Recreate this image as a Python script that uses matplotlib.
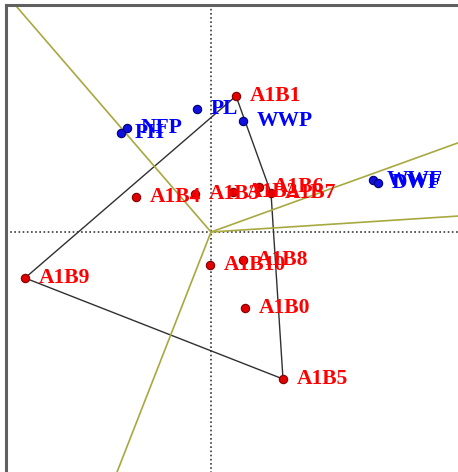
import numpy as np
import matplotlib
matplotlib.use("Agg")
import matplotlib.pyplot as plt

# Genotype scores (PC1, PC2)
genotypes = ["A1B0", "A1B1", "A1B2", "A1B3", "A1B4", "A1B5",
             "A1B6", "A1B7", "A1B8", "A1B9", "A1B10"]
gen_pc1 = [0.68, 0.50, 0.44, -0.32, -1.50, 1.44, 0.96, 1.20, 0.64, -3.72, -0.02]
gen_pc2 = [-1.52, 2.72, 0.80, 0.76, 0.70, -2.94, 0.90, 0.78, -0.56, -0.92, -0.66]

# Environment scores (PC1, PC2)
environments = ["PL", "WWP", "PH", "NFP", "WWF", "DWF"]
env_pc1 = [-0.28, 0.64, -1.80, -1.68, 3.24, 3.34]
env_pc2 = [2.46, 2.22, 1.98, 2.08, 1.04, 0.98]

# Convex hull vertices (which-won-where polygon)
hull = ["A1B1", "A1B7", "A1B5", "A1B9"]

W, H, DPI = 458, 472, 100
fig = plt.figure(figsize=(W / DPI, H / DPI), dpi=DPI)

left = 6 / W
top = 1 - 5 / H
width = 1.02 - left
bottom = -0.02
height = top - bottom
ax = fig.add_axes([left, bottom, width, height])

scale = 50.0  # pixels per unit
x0 = -4.10
y1 = 4.54
ax.set_xlim(x0, x0 + width * W / scale)
ax.set_ylim(y1 - height * H / scale, y1)
ax.set_aspect("equal", adjustable="box")
ax.set_xticks([])
ax.set_yticks([])
for sp in ax.spines.values():
    sp.set_color("#606060")
    sp.set_linewidth(2.2)

# Dotted reference axes
ax.axhline(0, color="#3a3a3a", lw=1.2, ls=(0, (1, 1.5)), zorder=1)
ax.axvline(0, color="#3a3a3a", lw=1.2, ls=(0, (1, 1.5)), zorder=1)

gx = dict(zip(genotypes, gen_pc1))
gy = dict(zip(genotypes, gen_pc2))

# Polygon
hx = [gx[g] for g in hull] + [gx[hull[0]]]
hy = [gy[g] for g in hull] + [gy[hull[0]]]
ax.plot(hx, hy, color="#303030", lw=1.0, zorder=2)

# Rays from origin perpendicular to polygon sides
for i in range(len(hull)):
    p = np.array([gx[hull[i]], gy[hull[i]]])
    q = np.array([gx[hull[(i + 1) % len(hull)]], gy[hull[(i + 1) % len(hull)]]])
    d = q - p
    t = -np.dot(p, d) / np.dot(d, d)
    foot = p + t * d
    u = foot / np.linalg.norm(foot)
    ax.plot([0, u[0] * 20], [0, u[1] * 20], color="#a8a840", lw=1.2, zorder=2)

font = dict(family=["Liberation Serif", "DejaVu Serif"], weight="bold", size=15.5)

# Genotype markers and labels
ax.scatter(gen_pc1, gen_pc2, s=36, color="#e00000", edgecolor="#800000",
           linewidth=0.8, zorder=4)
for name, x, y in zip(genotypes, gen_pc1, gen_pc2):
    ax.annotate(name, (x, y), xytext=(14, 0), textcoords="offset pixels",
                ha="left", va="center", color="#ff0000", zorder=5, **font)

# Environment markers and labels
ax.scatter(env_pc1, env_pc2, s=36, color="#1010e0", edgecolor="#000070",
           linewidth=0.8, zorder=4)
for name, x, y in zip(environments, env_pc1, env_pc2):
    ax.annotate(name, (x, y), xytext=(14, 0), textcoords="offset pixels",
                ha="left", va="center", color="#0000ff", zorder=5, **font)

fig.savefig("out.png", dpi=DPI)
